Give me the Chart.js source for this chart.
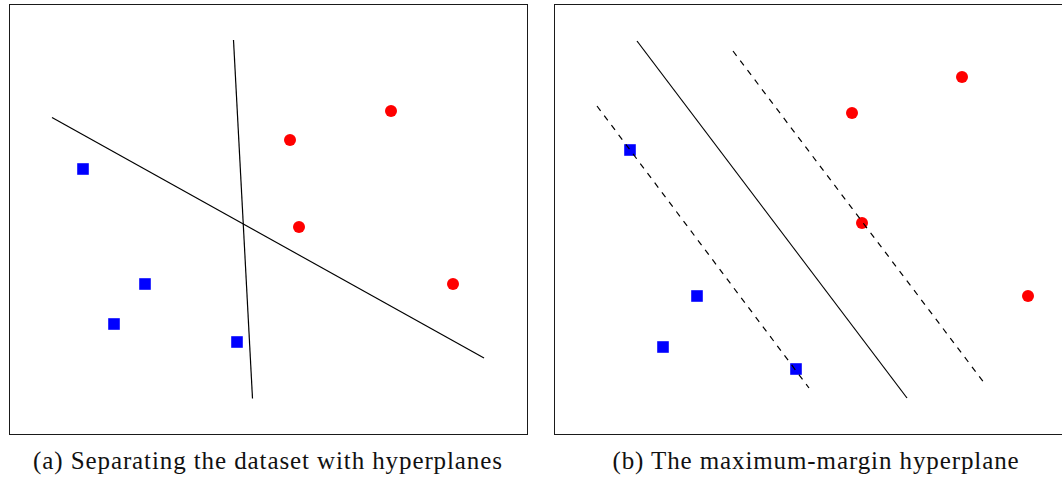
<!DOCTYPE html>
<html lang="en">
<head>
    <meta charset="UTF-8">
    <title>Hyperplanes</title>
    <script src="https://cdn.jsdelivr.net/npm/chart.js"></script>
    <style>
        html, body {
            margin: 0;
            padding: 0;
            background: #fff;
            overflow: hidden;
            width: 1062px;
            height: 478px;
        }
        .panel {
            position: absolute;
            top: 4px;
            border: 1px solid #1a1a1a;
        }
        .panel canvas {
            display: block;
        }
        .caption {
            position: absolute;
            top: 446px;
            font-family: "Liberation Serif", serif;
            font-size: 25px;
            letter-spacing: 0.9px;
            line-height: 30px;
            color: #111;
            text-align: center;
            white-space: nowrap;
        }
    </style>
</head>
<body>

    <div class="panel" id="panelA" style="left:9px; width:517px; height:429px;">
        <canvas id="chartA" width="517" height="429"></canvas>
    </div>
    <div class="panel" id="panelB" style="left:554px; width:524px; height:429px;">
        <canvas id="chartB" width="524" height="429"></canvas>
    </div>

    <div class="caption" style="left:9px; width:518px;">(a) Separating the dataset with hyperplanes</div>
    <div class="caption" style="left:554px; width:524px;">(b) The maximum-margin hyperplane</div>

    <script>
        // panel (a): two classes and two arbitrary separating lines
        const blueA = [[73, 265], [135, 150], [104, 110], [227, 92]];
        const redA = [[280, 294], [381, 323], [289, 207], [443, 150]];
        const lineA1 = [[42, 316.5], [474, 76]];
        const lineA2 = [[223.5, 394], [242.5, 35.5]];

        // panel (b): maximum-margin line and its two margins
        const blueB = [[75, 284], [142, 138], [108, 87], [241, 65]];
        const redB = [[297, 321], [407, 357], [307, 211], [473, 138]];
        const solidB = [[82, 393], [352, 36]];
        const marginB1 = [[42, 328], [254, 46]];
        const marginB2 = [[178, 383], [430, 50]];

        const toXY = arr => arr.map(p => ({ x: p[0], y: p[1] }));

        function lineSet(pts, dashed) {
            return {
                type: 'line',
                data: toXY(pts),
                borderColor: '#000',
                borderWidth: 1.2,
                borderDash: dashed ? [6, 6] : [],
                pointRadius: 0,
                fill: false,
                showLine: true,
            };
        }

        function pointSet(pts, color, style, radius) {
            return {
                type: 'scatter',
                data: toXY(pts),
                backgroundColor: color,
                borderColor: color,
                borderWidth: 0,
                pointStyle: style,
                pointRadius: radius,
            };
        }

        function makeChart(id, datasets, w) {
            const ctx = document.getElementById(id).getContext('2d');
            return new Chart(ctx, {
                type: 'scatter',
                data: { datasets: datasets },
                options: {
                    responsive: false,
                    animation: false,
                    layout: { padding: 0, autoPadding: false },
                    plugins: {
                        legend: { display: false },
                        tooltip: { enabled: false }
                    },
                    scales: {
                        x: { type: 'linear', min: 0, max: w, display: false },
                        y: { type: 'linear', min: 0, max: 429, display: false }
                    }
                }
            });
        }

        makeChart('chartA', [
            lineSet(lineA1, false),
            lineSet(lineA2, false),
            pointSet(blueA, '#0000ff', 'rect', 8.2),
            pointSet(redA, '#ff0000', 'circle', 6)
        ], 517);

        makeChart('chartB', [
            lineSet(solidB, false),
            lineSet(marginB1, true),
            lineSet(marginB2, true),
            pointSet(blueB, '#0000ff', 'rect', 8.2),
            pointSet(redB, '#ff0000', 'circle', 6)
        ], 524);
    </script>

</body>
</html>
